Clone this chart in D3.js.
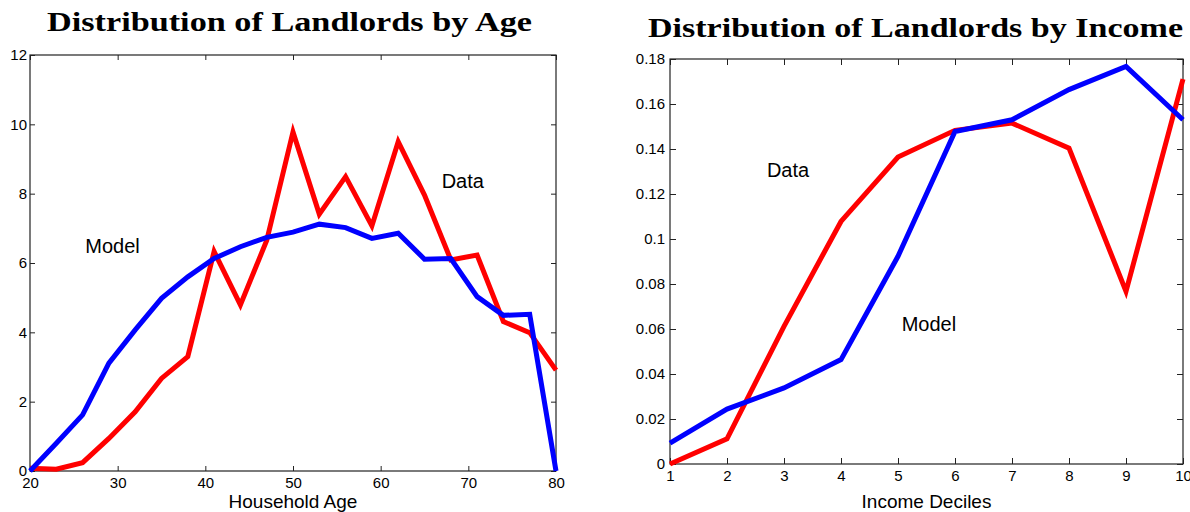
<!DOCTYPE html>
<html>
<head>
<meta charset="utf-8">
<script src="https://cdn.jsdelivr.net/npm/d3@7"></script>
<style>
  body { margin: 0; background: #fff; }
  .tick text { font-family: "Liberation Sans", Arial, sans-serif; font-size: 15px; fill: #000; }
  .tick line { stroke: #222; }
</style>
</head>
<body>
<div id="chart"></div>
<script>
// data
var ages = [20, 23, 26, 29, 32, 35, 38, 41, 44, 47, 50, 53, 56, 59, 62, 65, 68, 71, 74, 77, 80];
var ageData = [0.08, 0.05, 0.24, 0.94, 1.71, 2.67, 3.30, 6.33, 4.79, 6.65, 9.78, 7.41, 8.49, 7.07, 9.50, 7.96, 6.09, 6.23, 4.31, 3.99, 2.91];
var ageModel = [0, 0.80, 1.62, 3.11, 4.07, 4.98, 5.60, 6.13, 6.47, 6.74, 6.89, 7.12, 7.02, 6.71, 6.86, 6.11, 6.13, 5.03, 4.49, 4.52, 0];

var deciles = [1, 2, 3, 4, 5, 6, 7, 8, 9, 10];
var incomeData = [0, 0.0112, 0.0612, 0.1078, 0.1364, 0.1483, 0.1515, 0.1404, 0.0767, 0.1711];
var incomeModel = [0.0093, 0.0244, 0.0338, 0.0464, 0.0923, 0.1478, 0.1530, 0.1664, 0.1767, 0.1530];

var ageXTicks = [20, 30, 40, 50, 60, 70, 80];
var ageYTicks = [0, 2, 4, 6, 8, 10, 12];
var incYTicks = [0, 0.02, 0.04, 0.06, 0.08, 0.1, 0.12, 0.14, 0.16, 0.18];

var svgWidth = 1190;
var svgHeight = 512;

var svg = d3.select("#chart")
  .append("svg")
  .attr("width", svgWidth)
  .attr("height", svgHeight);

// draws one matlab style panel
function panel(opt) {
  var x = d3.scaleLinear().domain(opt.xDomain).range([opt.left, opt.right]);
  var y = d3.scaleLinear().domain(opt.yDomain).range([opt.bottom, opt.top]);
  var g = svg.append("g");

  // box
  g.append("rect")
    .attr("x", opt.left)
    .attr("y", opt.top)
    .attr("width", opt.right - opt.left)
    .attr("height", opt.bottom - opt.top)
    .attr("fill", "none")
    .attr("stroke", "#222")
    .attr("stroke-width", 1.2);

  var tl = opt.tickLen;

  var xb = g.append("g").attr("transform", `translate(0,${opt.bottom})`)
    .call(d3.axisBottom(x).tickValues(opt.xTicks).tickSize(-tl).tickPadding(6).tickFormat(d3.format("d")));
  var xt = g.append("g").attr("transform", `translate(0,${opt.top})`)
    .call(d3.axisTop(x).tickValues(opt.xTicks).tickSize(-tl).tickFormat(""));
  var yl = g.append("g").attr("transform", `translate(${opt.left},0)`)
    .call(d3.axisLeft(y).tickValues(opt.yTicks).tickSize(-tl).tickPadding(opt.yPad).tickFormat(d => String(+d.toFixed(2))));
  var yr = g.append("g").attr("transform", `translate(${opt.right},0)`)
    .call(d3.axisRight(y).tickValues(opt.yTicks).tickSize(-tl).tickFormat(""));
  [xb, xt, yl, yr].forEach(a => a.select(".domain").remove());

  var line = d3.line()
    .x((d, i) => x(opt.xs[i]))
    .y(d => y(d));

  g.append("path")
    .attr("d", line(opt.data))
    .attr("fill", "none")
    .attr("stroke", "#ff0000")
    .attr("stroke-width", 5)
    .attr("stroke-linejoin", "miter");

  g.append("path")
    .attr("d", line(opt.model))
    .attr("fill", "none")
    .attr("stroke", "#0000ff")
    .attr("stroke-width", 5)
    .attr("stroke-linejoin", "miter");

  // annotations
  opt.notes.forEach(function(n) {
    g.append("text")
      .attr("x", x(n.x))
      .attr("y", y(n.y))
      .attr("font-family", "Liberation Sans, Arial, sans-serif")
      .attr("font-size", 20)
      .text(n.label);
  });

  // x label
  g.append("text")
    .attr("x", (opt.left + opt.right) / 2)
    .attr("y", 508)
    .attr("text-anchor", "middle")
    .attr("font-family", "Liberation Sans, Arial, sans-serif")
    .attr("font-size", 19)
    .text(opt.xLabel);

  // title, stretched like computer modern bold extended
  g.append("text")
    .attr("x", opt.titleX)
    .attr("y", opt.titleY)
    .attr("font-family", "Liberation Serif, Times New Roman, serif")
    .attr("font-weight", "bold")
    .attr("font-size", 27)
    .attr("textLength", opt.titleW)
    .attr("lengthAdjust", "spacingAndGlyphs")
    .text(opt.title);
}

panel({
  left: 30, right: 556, top: 55, bottom: 471,
  xDomain: [20, 80], yDomain: [0, 12],
  xTicks: ageXTicks, yTicks: ageYTicks,
  tickLen: 5, yPad: 3,
  xs: ages, data: ageData, model: ageModel,
  notes: [{x: 26.3, y: 6.29, label: "Model"}, {x: 66.96, y: 8.16, label: "Data"}],
  xLabel: "Household Age",
  title: "Distribution of Landlords by Age",
  titleX: 47, titleY: 31, titleW: 485
});

panel({
  left: 670, right: 1183, top: 59, bottom: 464,
  xDomain: [1, 10], yDomain: [0, 0.18],
  xTicks: deciles, yTicks: incYTicks,
  tickLen: 6, yPad: 5,
  xs: deciles, data: incomeData, model: incomeModel,
  notes: [{x: 2.70, y: 0.1277, label: "Data"}, {x: 5.065, y: 0.0592, label: "Model"}],
  xLabel: "Income Deciles",
  title: "Distribution of Landlords by Income",
  titleX: 648, titleY: 37, titleW: 535
});
</script>
</body>
</html>
